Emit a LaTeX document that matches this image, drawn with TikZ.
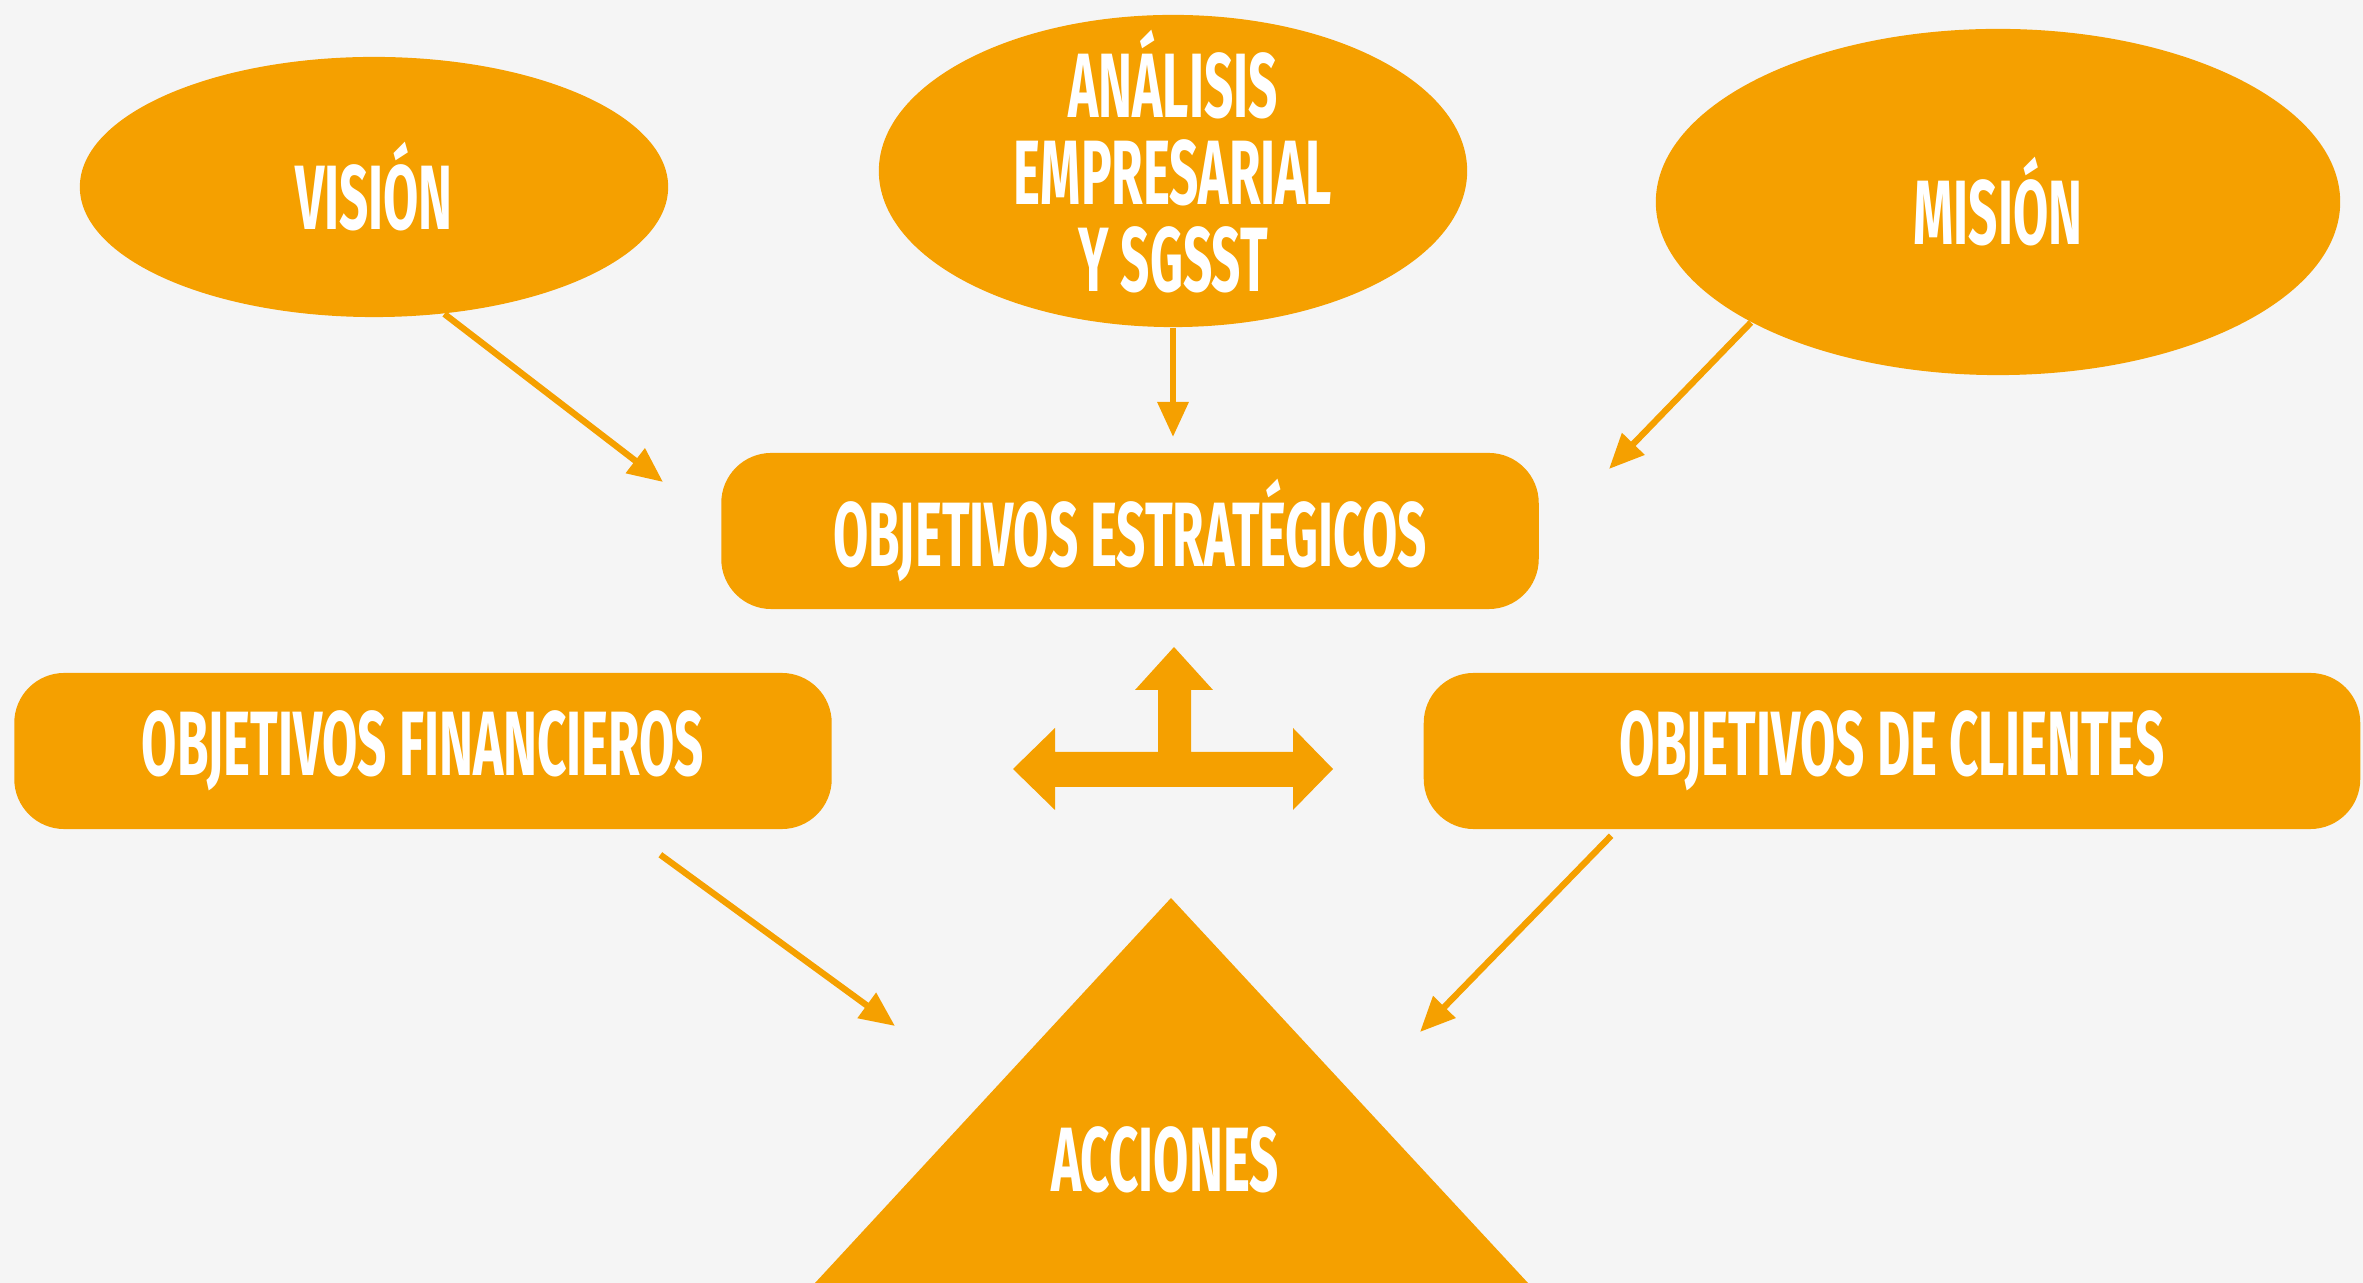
\documentclass[tikz,border=0pt]{standalone}
\usepackage{fontspec}
\setmainfont{Fira Sans}
\usepackage{graphicx}
\usepackage{tikz}
\usetikzlibrary{shapes.geometric, arrows.meta, positioning}
\definecolor{myOrange}{RGB}{245, 160, 0}
\definecolor{myGray}{RGB}{245, 245, 245}
\newcommand{\lbl}[1]{\scalebox{0.56}[1]{\bfseries #1}}

\begin{document}
\begin{tikzpicture}[
            x=0.01cm, y=-0.01cm,
            font=\fontsize{26}{24.7}\selectfont,
            >={Triangle[length=3.5mm, width=3mm]},
            % Styles
            bubble/.style={
                ellipse, fill=myOrange, text=white, inner sep=0pt, align=center
            },
            goal/.style={
                rectangle, fill=myOrange, text=white, rounded corners=5mm,
                minimum width=8.17cm, minimum height=1.56cm, align=center
            },
            link/.style={
                ->, draw=myOrange, line width=1.8pt
            }
        ]

            % --- Background ---
            \fill[myGray] (0,0) rectangle (2363,1283);
            \useasboundingbox (0,0) rectangle (2363,1283);

            % --- Nodes ---

            % 1. Top ellipses
            \node[bubble, minimum width=5.88cm, minimum height=2.6cm] (vision) at (374,187) {\lbl{VISIÓN}};
            \node[bubble, inner ysep=-0.6cm, minimum width=5.88cm, minimum height=3.12cm] (analisis) at (1173,171)
                {\lbl{ANÁLISIS}\\\lbl{EMPRESARIAL}\\\lbl{Y SGSST}\\[-0.67cm]};
            \node[bubble, minimum width=6.84cm, minimum height=3.46cm] (mision) at (1998,202) {\lbl{MISIÓN}};

            % 2. Objective boxes
            \node[goal] (estrat) at (1130,531) {\lbl{OBJETIVOS ESTRATÉGICOS}};
            \node[goal] (financ) at (423,751) {\lbl{OBJETIVOS FINANCIEROS}};
            \node[goal, minimum width=9.36cm] (client) at (1892,751) {\lbl{OBJETIVOS DE CLIENTES}};

            % 3. Actions (triangle)
            \fill[myOrange] (1171,898) -- (1528,1283) -- (815,1283) -- cycle;
            \node[text=white] (acciones) at (1165,1160) {\lbl{ACCIONES}};

            % 4. Three-way arrow
            \fill[myOrange] (1013,769) -- (1055,728) -- (1055,752) -- (1158,752) -- (1158,690)
                -- (1135,690) -- (1174,647) -- (1213,690) -- (1191,690) -- (1191,752)
                -- (1293,752) -- (1293,728) -- (1333,769) -- (1293,810) -- (1293,787)
                -- (1055,787) -- (1055,810) -- cycle;

            % --- Arrows ---
            \coordinate (tipV) at (663,482);
            \coordinate (tipA) at (1173,437);
            \coordinate (tipM) at (1609,469);
            \coordinate (tipF) at (895,1026);
            \coordinate (tipC) at (1420,1032);

            \draw[link] (vision.-61) -- (tipV);
            \draw[link] (analisis.south) -- (tipA);
            \draw[link] (mision.206.5) -- (tipM);
            \draw[link] ([xshift=-1.72cm, yshift=-0.25cm]financ.south east) -- (tipF);
            \draw[link] ([xshift=1.88cm, yshift=-0.06cm]client.south west) -- (tipC);

        \end{tikzpicture}
\end{document}
